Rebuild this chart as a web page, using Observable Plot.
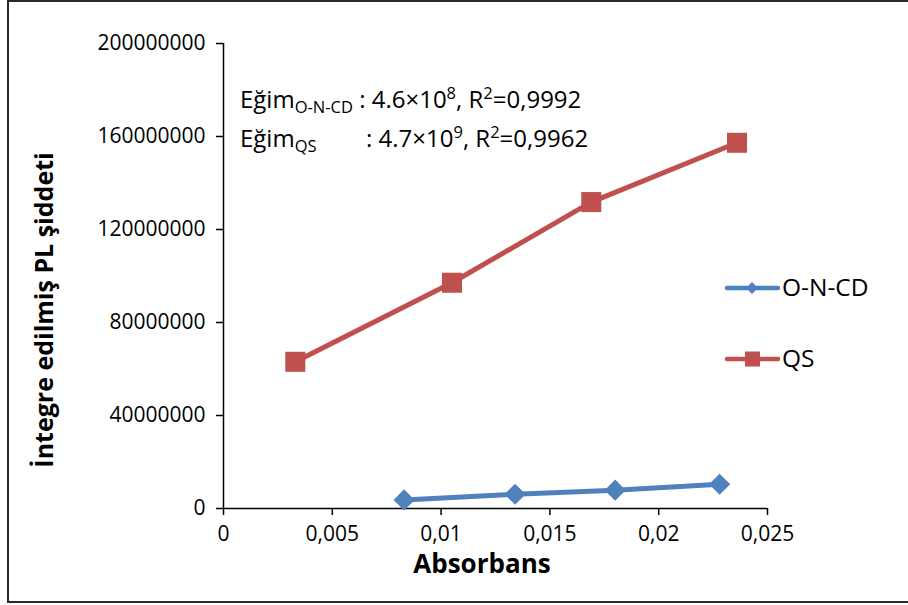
<!DOCTYPE html>
<html><head><meta charset="utf-8">
<script src="https://cdn.jsdelivr.net/npm/d3@7"></script>
<script src="https://cdn.jsdelivr.net/npm/@observablehq/plot@0.6"></script>
<style>
body{margin:0;background:#fff;}
#wrap{position:relative;width:908px;height:605px;overflow:hidden;background:#fff;}
#frame{position:absolute;left:7px;top:0px;width:1000px;height:603px;border:2px solid #2a2a2a;box-sizing:border-box;pointer-events:none;}
#chart{position:absolute;left:0;top:0;}
</style></head><body>
<div id="wrap"><div id="chart"></div><div id="frame"></div></div>
<script>
// Data
const seriesNames = ["O-N-CD", "QS"];
const absONCD = [0.0083, 0.0134, 0.0180, 0.0228];
const plONCD  = [3.7e6, 6.1e6, 7.9e6, 10.4e6];
const absQS   = [0.0033, 0.0105, 0.0169, 0.0236];
const plQS    = [63.1e6, 97.1e6, 131.8e6, 157.3e6];
const xTicks  = [0, 0.005, 0.01, 0.015, 0.02, 0.025];
const yTicks  = [0, 40000000, 80000000, 120000000, 160000000, 200000000];
const xTitle  = "Absorbans";
const yTitle  = "İntegre edilmiş PL şiddeti";

const blue = "#4F81BD", red = "#C0504D";
const oncd = absONCD.map((x, i) => ({x, y: plONCD[i], s: seriesNames[0]}));
const qs   = absQS.map((x, i) => ({x, y: plQS[i], s: seriesNames[1]}));

const W = 908, H = 605;
const mL = 223, mR = 141, mT = 43, mB = 97;

const fmtX = d => d === 0 ? "0" : String(+d.toFixed(3)).replace(".", ",");

const plot = Plot.plot({
  width: W, height: H,
  marginLeft: mL, marginRight: mR, marginTop: mT, marginBottom: mB,
  style: {fontFamily: "'Open Sans', sans-serif", fontSize: "21px", color: "#000", background: "transparent"},
  x: {domain: [0, 0.025], ticks: xTicks, tickFormat: fmtX, label: null},
  y: {domain: [0, 200000000], ticks: yTicks, tickFormat: d3.format("d"), label: null},
  marks: [
    Plot.axisX({ticks: xTicks, tickFormat: fmtX, tickSize: 7, tickPadding: 11, label: null, stroke: "#000", strokeWidth: 1.5}),
    Plot.axisY({ticks: yTicks, tickFormat: d3.format("d"), tickSize: 7, tickPadding: 11, label: null, stroke: "#000", strokeWidth: 1.5}),
    Plot.ruleX([0], {stroke: "#000", strokeWidth: 1.5}),
    Plot.ruleY([0], {stroke: "#000", strokeWidth: 1.5}),
    Plot.line(qs, {x: "x", y: "y", stroke: red, strokeWidth: 5}),
    Plot.line(oncd, {x: "x", y: "y", stroke: blue, strokeWidth: 5}),
    Plot.dot(qs, {x: "x", y: "y", symbol: "square", r: 11.3, fill: red, stroke: "none"}),
    Plot.dot(oncd, {x: "x", y: "y", symbol: "diamond2", r: 9.5, fill: blue, stroke: "none"})
  ]
});
document.getElementById("chart").appendChild(plot);

const svg = d3.select(plot);
const font = "'Open Sans', sans-serif";

// Axis titles
svg.append("text").attr("x", 482).attr("y", 573).attr("text-anchor", "middle")
  .attr("font-family", font).attr("font-weight", "bold").attr("font-size", 26).attr("fill", "#000").text(xTitle);
svg.append("text").attr("transform", "translate(53,310) rotate(-90)").attr("text-anchor", "middle")
  .attr("font-family", font).attr("font-weight", "bold").attr("font-size", 25).attr("fill", "#000").text(yTitle);

// Annotation
function ann(x, y, parts) {
  const t = svg.append("text").attr("x", x).attr("y", y).attr("text-anchor", "start")
    .attr("font-family", font).attr("font-size", 24).attr("fill", "#000");
  parts.forEach(([s, kind]) => {
    const ts = t.append("tspan").text(s);
    if (kind === "sub") ts.attr("font-size", 16.5).attr("dy", 5);
    if (kind === "sup") ts.attr("font-size", 16.5).attr("dy", -9);
    if (kind === "back") ts.attr("dy", 9);
    if (kind === "up") ts.attr("dy", -5);
  });
}
ann(240, 108, [["Eğim"], ["O-N-CD", "sub"], [" : 4.6×10", "up"], ["8", "sup"], [", R", "back"], ["2", "sup"], ["=0,9992", "back"]]);
ann(240, 147, [["Eğim"], ["QS", "sub"]]);
ann(366, 147, [[": 4.7×10"], ["9", "sup"], [", R", "back"], ["2", "sup"], ["=0,9962", "back"]]);

// Legend
const leg = [[seriesNames[0], blue, "diamond", 288], [seriesNames[1], red, "square", 359]];
leg.forEach(([name, col, sym, y]) => {
  svg.append("line").attr("x1", 727).attr("x2", 778).attr("y1", y).attr("y2", y)
    .attr("stroke", col).attr("stroke-width", 4.5).attr("stroke-linecap", "round");
  if (sym === "diamond") {
    svg.append("path").attr("d", d3.symbol(d3.symbolDiamond2, 90)()).attr("transform", `translate(752,${y})`).attr("fill", col);
  } else {
    svg.append("rect").attr("x", 745).attr("y", y - 7.5).attr("width", 15).attr("height", 15).attr("fill", col);
  }
  svg.append("text").attr("x", 782).attr("y", y + 8).attr("text-anchor", "start")
    .attr("font-family", font).attr("font-size", 24.5).attr("fill", "#000").text(name);
});
</script>
</body></html>
